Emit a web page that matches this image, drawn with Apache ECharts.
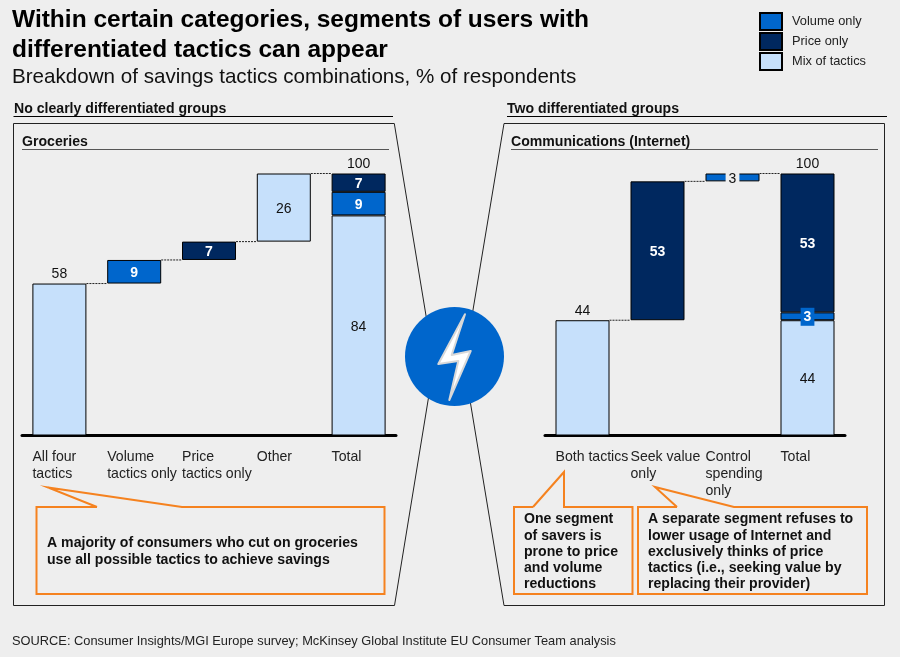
<!DOCTYPE html>
<html>
<head>
<meta charset="utf-8">
<title>Savings tactics</title>
<script src="https://cdn.jsdelivr.net/npm/echarts@6/dist/echarts.min.js"></script>
<style>
  html, body { margin: 0; padding: 0; background: #eeeeee; }
  #chart { width: 900px; height: 657px; }
</style>
</head>
<body>
<div id="chart"></div>
<script>
// left panel - groceries
const leftCategories = ["All four\ntactics", "Volume\ntactics only", "Price\ntactics only", "Other", "Total"];
const leftBase = [null, 58, 67, 74, null];
const leftMix = [58, null, null, 26, 84];
const leftVolume = [null, 9, null, null, 9];
const leftPrice = [null, null, 7, null, 7];
const leftTops = [[0, 58], [4, 100]];
const leftSteps = [[0, 58], [1, 67], [2, 74], [3, 100]];

// right panel - communications
const rightCategories = ["Both tactics", "Seek value\nonly", "Control\nspending\nonly", "Total"];
const rightBase = [null, 44, 97, null];
const rightMix = [44, null, null, 44];
const rightVolume = [null, null, 3, 3];
const rightPrice = [null, 53, null, 53];
const rightTops = [[0, 44], [3, 100]];
const rightSteps = [[0, 44], [1, 97], [2, 100]];

const FONT = "Liberation Sans";
const INK = "#111111";
const BG = "#eeeeee";
const LIGHT = "#c6e0fb";
const BLUE = "#0066cc";
const NAVY = "#00285f";
const ORANGE = "#f5821f";
const BAR_W = 54;

const chart = echarts.init(document.getElementById("chart"));

function xAxis(gridIndex, categories) {
  return {
    type: "category",
    gridIndex,
    data: categories,
    axisTick: { show: false },
    axisLine: { lineStyle: { color: "#000", width: 3, cap: "round" } },
    axisLabel: {
      margin: 13,
      interval: 0,
      // left aligned on the bar edge
      formatter: (v) => v.split("\n").map((s) => "{a|" + s + "}").join("\n"),
      rich: { a: { width: BAR_W, align: "left", fontFamily: FONT, fontSize: 14.1, lineHeight: 17, color: "#222" } },
    },
  };
}

function barSeries(name, idx, values, color, labelColor, bold, customLabel) {
  return {
    name,
    type: "bar",
    stack: "s" + idx,
    xAxisIndex: idx,
    yAxisIndex: idx,
    barWidth: BAR_W,
    silent: true,
    itemStyle: { color, borderColor: "#000", borderWidth: 1 },
    label: {
      show: true,
      position: "inside",
      offset: [0, 1.5],
      fontFamily: FONT,
      fontSize: 14,
      fontWeight: bold ? "bold" : "normal",
      color: labelColor,
    },
    data: values.map((v, i) => {
      if (v === null) return "-";
      return customLabel ? { value: v, label: customLabel(v, i) } : v;
    }),
  };
}

function baseSeries(idx, values) {
  return {
    type: "bar",
    stack: "s" + idx,
    xAxisIndex: idx,
    yAxisIndex: idx,
    barWidth: BAR_W,
    silent: true,
    itemStyle: { color: "transparent" },
    data: values.map((v) => (v === null ? "-" : v)),
  };
}

function topSeries(idx, tops) {
  return {
    type: "scatter",
    xAxisIndex: idx,
    yAxisIndex: idx,
    symbolSize: 1,
    silent: true,
    itemStyle: { color: "transparent", opacity: 1 },
    label: {
      show: true,
      position: "top",
      distance: 2,
      formatter: (p) => p.value[1],
      fontFamily: FONT,
      fontSize: 14,
      color: INK,
    },
    data: tops,
  };
}

// dotted connectors between neighbouring bars
function stepSeries(idx, steps) {
  return {
    type: "custom",
    xAxisIndex: idx,
    yAxisIndex: idx,
    silent: true,
    encode: { x: 0, y: 1 },
    renderItem: (params, api) => {
      const p = api.coord([api.value(0), api.value(1)]);
      const band = api.size([1, 0])[0];
      return {
        type: "line",
        shape: { x1: p[0] + BAR_W / 2, y1: p[1], x2: p[0] + band - BAR_W / 2, y2: p[1] },
        style: { stroke: "#222", lineWidth: 1, lineDash: [2, 1] },
      };
    },
    data: steps,
  };
}

function panelSeries(idx, base, mix, volume, price, tops, steps, volumeLabel) {
  return [
    baseSeries(idx, base),
    barSeries("Mix of tactics", idx, mix, LIGHT, INK, false, (v, i) => ({ show: i > 0 })),
    barSeries("Volume only", idx, volume, BLUE, "#fff", true, volumeLabel),
    barSeries("Price only", idx, price, NAVY, "#fff", true),
    topSeries(idx, tops),
    stepSeries(idx, steps),
  ];
}

function text(x, y, str, size, weight, lineHeight, color) {
  return {
    type: "text",
    x,
    y,
    z: 5,
    style: {
      text: str,
      fontFamily: FONT,
      fontSize: size,
      fontWeight: weight || "normal",
      lineHeight: lineHeight || size + 3,
      fill: color || INK,
      textVerticalAlign: "top",
    },
  };
}

function poly(points, stroke, width, fill, z) {
  return {
    type: "polyline",
    z: z || 1,
    shape: { points },
    style: { stroke, lineWidth: width, fill: fill || "none", lineJoin: "miter" },
  };
}

function rule(x1, x2, y, color) {
  return { type: "line", z: 1, shape: { x1, y1: y, x2, y2: y }, style: { stroke: color, lineWidth: 1 } };
}

const graphics = [
  text(14, 100.5, "No clearly differentiated groups", 14.1, "bold"),
  rule(13.5, 393, 116.5, "#000"),
  text(507, 100.5, "Two differentiated groups", 14.1, "bold"),
  rule(507, 887, 116.5, "#000"),

  poly([[394.3, 123.5], [13.5, 123.5], [13.5, 605.5], [394.5, 605.5], [434, 364], [394.3, 123.5]], "#222", 1),
  poly([[504, 123.5], [884.5, 123.5], [884.5, 605.5], [504, 605.5], [464, 364], [504, 123.5]], "#222", 1),

  text(22, 133.5, "Groceries", 14.1, "bold"),
  rule(22, 389, 149.5, "#555"),
  text(511, 133.5, "Communications (Internet)", 14.1, "bold"),
  rule(511, 878, 149.5, "#555"),

  { type: "circle", z: 3, shape: { cx: 454.5, cy: 356.5, r: 49.5 }, style: { fill: BLUE } },
  {
    type: "polygon",
    z: 4,
    shape: { points: [[465, 314.3], [438.3, 364], [458.3, 361], [449.3, 400], [470.7, 351], [451.7, 355]] },
    style: { fill: "#ffffff", stroke: "#d8d8d8", lineWidth: 2, lineJoin: "round" },
  },

  // callouts
  poly([[97, 507], [48, 487.5], [182, 507], [384.5, 507], [384.5, 594], [36.5, 594], [36.5, 507], [97, 507]], ORANGE, 2),
  poly([[533, 507], [564, 472], [564, 507], [632.5, 507], [632.5, 594], [514, 594], [514, 507], [533, 507]], ORANGE, 2),
  poly([[677, 507], [655, 487], [734, 507], [867, 507], [867, 594], [638, 594], [638, 507], [677, 507]], ORANGE, 2),
  text(47, 535, "A majority of consumers who cut on groceries\nuse all possible tactics to achieve savings", 14.1, "bold", 17),
  text(524, 511.5, "One segment\nof savers is\nprone to price\nand volume\nreductions", 14.1, "bold", 16.2),
  text(648, 511.5, "A separate segment refuses to\nlower usage of Internet and\nexclusively thinks of price\ntactics (i.e., seeking value by\nreplacing their provider)", 14.1, "bold", 16.2),

  text(12, 633.5, "SOURCE: Consumer Insights/MGI Europe survey; McKinsey Global Institute EU Consumer Team analysis", 12.84, "normal", 15, "#222"),
];

const option = {
  backgroundColor: BG,
  animation: false,
  title: [
    {
      text: "Within certain categories, segments of users with\ndifferentiated tactics can appear",
      left: 12,
      top: 5,
      padding: 0,
      textStyle: { fontFamily: FONT, fontSize: 24.5, fontWeight: "bold", lineHeight: 30, color: "#000" },
    },
    {
      text: "Breakdown of savings tactics combinations, % of respondents",
      left: 12,
      top: 65,
      padding: 0,
      textStyle: { fontFamily: FONT, fontSize: 20.6, fontWeight: "normal", lineHeight: 24, color: INK },
    },
  ],
  legend: {
    data: ["Volume only", "Price only", "Mix of tactics"],
    orient: "vertical",
    left: 759,
    top: 12,
    padding: 0,
    itemWidth: 22,
    itemHeight: 17,
    itemGap: 1,
    icon: "rect",
    selectedMode: false,
    textStyle: { fontFamily: FONT, fontSize: 12.8, color: "#222", padding: [0, 0, 0, 5] },
  },
  grid: [
    { left: 22, top: 173.5, width: 374, height: 262 },
    { left: 545, top: 173.5, width: 300, height: 262 },
  ],
  xAxis: [xAxis(0, leftCategories), xAxis(1, rightCategories)],
  yAxis: [0, 1].map((i) => ({ type: "value", gridIndex: i, min: 0, max: 100, show: false })),
  series: [
    ...panelSeries(0, leftBase, leftMix, leftVolume, leftPrice, leftTops, leftSteps),
    ...panelSeries(1, rightBase, rightMix, rightVolume, rightPrice, rightTops, rightSteps, (v, i) =>
      i === 2
        ? { color: INK, fontWeight: "normal", backgroundColor: BG, padding: [1, 3] }
        : { backgroundColor: BLUE, padding: [2, 3], offset: [0, 0.5] }
    ),
  ],
  graphic: graphics,
};

chart.setOption(option);
</script>
</body>
</html>
